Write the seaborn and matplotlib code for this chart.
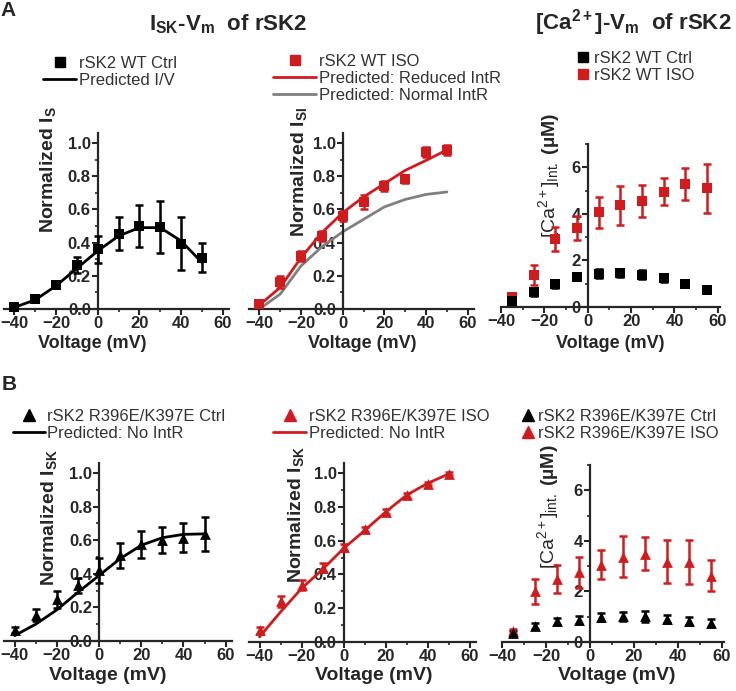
import numpy as np
import seaborn as sns
import matplotlib
matplotlib.use("Agg")
import matplotlib.pyplot as plt
import matplotlib.ticker as mticker
from matplotlib.lines import Line2D

# voltages (mV)
v_iv = [-40, -30, -20, -10, 0, 10, 20, 30, 40, 50]
v_ca = [-35, -25, -15, -5, 5, 15, 25, 35, 45, 55]

# A: normalized currents, rSK2 WT
wt_ctrl_i = [0.014, 0.058, 0.144, 0.264, 0.36, 0.454, 0.50, 0.494, 0.394, 0.31]
wt_ctrl_i_err = [0.008, 0.01, 0.015, 0.05, 0.08, 0.10, 0.128, 0.155, 0.16, 0.09]
wt_ctrl_pred = [0.01, 0.055, 0.14, 0.245, 0.35, 0.44, 0.49, 0.49, 0.41, 0.28]

wt_iso_i = [0.03, 0.164, 0.318, 0.438, 0.558, 0.644, 0.738, 0.784, 0.944, 0.958]
wt_iso_i_err = [0.01, 0.035, 0.03, 0.03, 0.03, 0.04, 0.03, 0.025, 0.03, 0.03]
wt_iso_pred_reduced = [0.024, 0.13, 0.31, 0.46, 0.58, 0.675, 0.755, 0.835, 0.895, 0.958]
wt_iso_pred_normal = [0.0, 0.09, 0.26, 0.375, 0.465, 0.54, 0.615, 0.66, 0.69, 0.705]

# B: normalized currents, rSK2 R396E/K397E
mut_ctrl_i = [0.065, 0.155, 0.248, 0.333, 0.42, 0.51, 0.576, 0.604, 0.616, 0.636]
mut_ctrl_i_err = [0.02, 0.035, 0.05, 0.045, 0.075, 0.075, 0.08, 0.077, 0.087, 0.1]
mut_ctrl_pred = [0.032, 0.10, 0.185, 0.29, 0.39, 0.49, 0.57, 0.615, 0.635, 0.638]

mut_iso_i = [0.07, 0.24, 0.34, 0.44, 0.56, 0.667, 0.772, 0.87, 0.937, 0.996]
mut_iso_i_err = [0.02, 0.03, 0.03, 0.025, 0.02, 0.015, 0.015, 0.015, 0.01, 0.01]
mut_iso_pred = [0.03, 0.178, 0.317, 0.43, 0.554, 0.66, 0.77, 0.87, 0.94, 0.995]

# intracellular Ca2+ (uM)
wt_ctrl_ca = [0.26, 0.64, 0.97, 1.29, 1.43, 1.47, 1.39, 1.26, 0.97, 0.74]
wt_ctrl_ca_err = [0.05, 0.15, 0.15, 0.15, 0.2, 0.18, 0.18, 0.17, 0.12, 0.08]
wt_iso_ca = [0.43, 1.36, 2.93, 3.4, 4.07, 4.36, 4.54, 4.96, 5.29, 5.1]
wt_iso_ca_err = [0.1, 0.43, 0.51, 0.52, 0.66, 0.82, 0.69, 0.6, 0.69, 1.06]

mut_ctrl_ca = [0.36, 0.64, 0.82, 0.88, 0.99, 1.01, 1.01, 0.92, 0.84, 0.75]
mut_ctrl_ca_err = [0.08, 0.12, 0.14, 0.15, 0.15, 0.16, 0.2, 0.15, 0.15, 0.15]
mut_iso_ca = [0.42, 2.0, 2.49, 2.75, 3.05, 3.38, 3.49, 3.18, 3.16, 2.62]
mut_iso_ca_err = [0.1, 0.5, 0.55, 0.6, 0.57, 0.82, 0.66, 0.84, 0.87, 0.62]

RED = "#d01c1f"
GREY = "#808080"
TXT = "#333333"

sns.set_style("ticks")
plt.rcParams["font.family"] = ["Liberation Sans", "DejaVu Sans"]
plt.rcParams["mathtext.fontset"] = "custom"
plt.rcParams["mathtext.rm"] = "Liberation Sans"
plt.rcParams["mathtext.it"] = "Liberation Sans:italic"
plt.rcParams["mathtext.bf"] = "Liberation Sans:bold"

W, H = 736, 691
fig = plt.figure(figsize=(W / 100, H / 100), dpi=100)


def fx(x):
    return x / W


def fy(y):
    return 1 - y / H


def place(left, top, right, bottom):
    return fig.add_axes([fx(left), fy(bottom), (right - left) / W, (bottom - top) / H])


def style(ax, xlim, ylim, ymaj, ymin, yfmt):
    ax.set_xlim(xlim)
    ax.set_ylim(ylim)
    ax.patch.set_alpha(0)
    ax.spines["left"].set_position(("data", 0))
    ax.spines["top"].set_visible(False)
    ax.spines["right"].set_visible(False)
    for s in ["left", "bottom"]:
        ax.spines[s].set_linewidth(1.6)
    ax.xaxis.set_major_locator(mticker.MultipleLocator(20))
    ax.xaxis.set_minor_locator(mticker.MultipleLocator(10))
    ax.yaxis.set_major_locator(mticker.MultipleLocator(ymaj))
    ax.yaxis.set_minor_locator(mticker.MultipleLocator(ymin))
    ax.yaxis.set_major_formatter(mticker.FormatStrFormatter(yfmt))
    ax.tick_params(which="major", length=4, width=1.5, labelsize=12, pad=1)
    ax.tick_params(which="minor", length=2.5, width=1.2)
    for lab in ax.get_xticklabels() + ax.get_yticklabels():
        lab.set_fontweight("bold")


def points(ax, x, y, err, color, marker, size=48):
    ax.errorbar(x, y, yerr=err, fmt="none", ecolor=color, elinewidth=1.8,
                capsize=3.2, capthick=1.8, zorder=3, clip_on=False)
    sns.scatterplot(x=x, y=y, ax=ax, color=color, marker=marker, s=size,
                    linewidth=0, zorder=4, clip_on=False, legend=False)


def curve(ax, x, y, color):
    sns.lineplot(x=x, y=y, ax=ax, color=color, linewidth=2, zorder=2, legend=False)


def labels(ax, xlab_xy, xsize, ylab, ylab_xy):
    ax.set_xlabel("Voltage (mV)", fontsize=xsize, fontweight="bold")
    ax.xaxis.set_label_coords(fx(xlab_xy[0]), fy(xlab_xy[1]), transform=fig.transFigure)
    ax.set_ylabel(ylab, fontsize=14, fontweight="bold")
    ax.yaxis.set_label_coords(fx(ylab_xy[0]), fy(ylab_xy[1]), transform=fig.transFigure)


def legend(ax, handles, texts, x, y, hlen):
    ax.legend(handles, texts, loc="upper left", bbox_to_anchor=(fx(x), fy(y)),
              bbox_transform=fig.transFigure, frameon=False, fontsize=12,
              handlelength=hlen, handletextpad=0.15, borderpad=0, borderaxespad=0,
              labelspacing=0.12, labelcolor=TXT)


sq_k = Line2D([], [], marker="s", ls="none", color="black", markersize=7)
sq_r = Line2D([], [], marker="s", ls="none", color=RED, markersize=7)
tr_k = Line2D([], [], marker="^", ls="none", color="black", markersize=8)
tr_r = Line2D([], [], marker="^", ls="none", color=RED, markersize=8)
ln_k = Line2D([], [], color="black", lw=2)
ln_r = Line2D([], [], color=RED, lw=2)
ln_g = Line2D([], [], color=GREY, lw=2)

# ---- row A ----
ax = place(4, 133, 229, 309)
style(ax, (-45, 63), (0, 1.06), 0.2, 0.1, "%.1f")
curve(ax, v_iv, wt_ctrl_pred, "black")
points(ax, v_iv, wt_ctrl_i, wt_ctrl_i_err, "black", "s")
labels(ax, (92, 335), 13, r"Normalized I$_\mathbf{S}$", (58, 170))
legend(ax, [sq_k, ln_k], ["rSK2 WT Ctrl", "Predicted I/V"], 43, 56, 2.0)

ax = place(249, 133, 474, 309)
style(ax, (-45, 63), (0, 1.06), 0.2, 0.1, "%.1f")
curve(ax, v_iv, wt_iso_pred_normal, GREY)
curve(ax, v_iv, wt_iso_pred_reduced, RED)
points(ax, v_iv, wt_iso_i, wt_iso_i_err, RED, "s")
labels(ax, (362, 335), 13, r"Normalized I$_\mathbf{SI}$", (309, 172))
legend(ax, [sq_r, ln_r, ln_g],
       ["rSK2 WT ISO", "Predicted: Reduced IntR", "Predicted: Normal IntR"], 273, 54, 2.6)

ax = place(501, 144, 720, 307)
style(ax, (-40, 61), (0, 7), 2, 1, "%d")
points(ax, v_ca, wt_iso_ca, wt_iso_ca_err, RED, "s", 42)
points(ax, v_ca, wt_ctrl_ca, wt_ctrl_ca_err, "black", "s", 42)
labels(ax, (610, 335), 13, r"$\mathrm{[Ca^{2+}]_{Int.}}$ (µM)", (562, 175))
legend(ax, [sq_k, sq_r], ["rSK2 WT Ctrl", "rSK2 WT ISO"], 575, 51, 1.0)

# ---- row B ----
ax = place(4, 463, 232, 641)
style(ax, (-45, 63), (0, 1.06), 0.2, 0.1, "%.1f")
curve(ax, v_iv, mut_ctrl_pred, "black")
points(ax, v_iv, mut_ctrl_i, mut_ctrl_i_err, "black", "^", 60)
labels(ax, (108, 667), 14, r"Normalized I$_\mathbf{SK}$", (59, 518))
legend(ax, [tr_k, ln_k], ["rSK2 R396E/K397E Ctrl", "Predicted: No IntR"], 13, 409, 1.9)

ax = place(249, 463, 476, 642)
style(ax, (-45, 63), (0, 1.06), 0.2, 0.1, "%.1f")
curve(ax, v_iv, mut_iso_pred, RED)
points(ax, v_iv, mut_iso_i, mut_iso_i_err, RED, "^", 60)
labels(ax, (374, 667), 14, r"Normalized I$_\mathbf{SK}$", (306, 515))
legend(ax, [tr_r, ln_r], ["rSK2 R396E/K397E ISO", "Predicted: No IntR"], 273, 409, 2.0)

ax = place(502, 465, 724, 642)
style(ax, (-40, 61), (0, 7), 2, 1, "%d")
points(ax, v_ca, mut_iso_ca, mut_iso_ca_err, RED, "^", 60)
points(ax, v_ca, mut_ctrl_ca, mut_ctrl_ca_err, "black", "^", 60)
labels(ax, (617, 667), 14, r"$\mathrm{[Ca^{2+}]_{int.}}$ (µM)", (561, 507))
legend(ax, [tr_k, tr_r], ["rSK2 R396E/K397E Ctrl", "rSK2 R396E/K397E ISO"], 520, 409, 0.9)

# titles and panel letters
fig.text(fx(8), fy(10), "A", fontsize=15, fontweight="bold", ha="center", va="center")
fig.text(fx(9), fy(385), "B", fontsize=15, fontweight="bold", ha="center", va="center")
fig.text(fx(228), fy(24), r"I$_\mathbf{SK}$-V$_\mathbf{m}$  of rSK2", fontsize=16,
         fontweight="bold", ha="center", va="center")
fig.text(fx(633), fy(23), r"$\mathbf{[Ca^{2+}]}$-V$_\mathbf{m}$  of rSK2", fontsize=16,
         fontweight="bold", ha="center", va="center")

fig.savefig("out.png", dpi=100)
